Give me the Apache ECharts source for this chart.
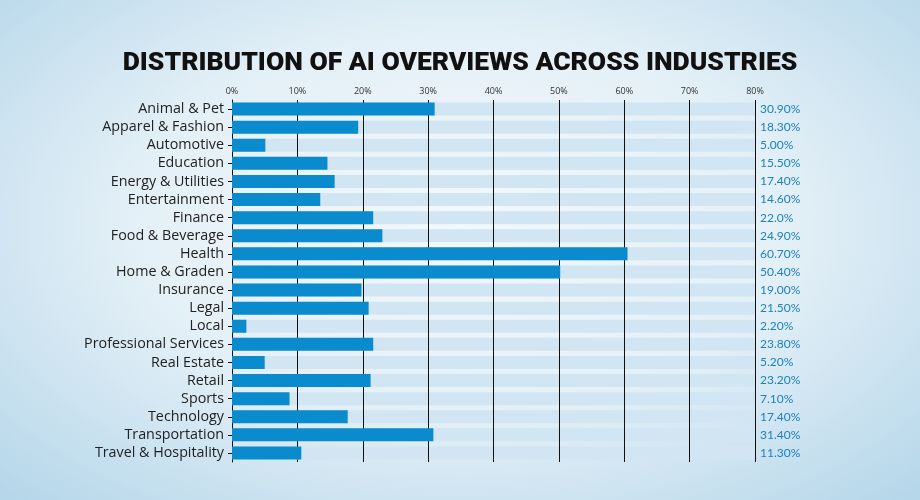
<!DOCTYPE html>
<html><head><meta charset="utf-8">
<script src="https://cdn.jsdelivr.net/npm/echarts@6/dist/echarts.min.js"></script>
<style>
html,body{margin:0;padding:0;}
body{width:920px;height:500px;background:radial-gradient(ellipse 70% 75% at 50% 45%, #f3f8fb 0%, #e4f0f7 50%, #b6d7ea 100%);}
#c{width:920px;height:500px;}
</style></head>
<body><div id="c"></div>
<script>
const categories = ["Animal & Pet","Apparel & Fashion","Automotive","Education","Energy & Utilities","Entertainment","Finance","Food & Beverage","Health","Home & Graden","Insurance","Legal","Local","Professional Services","Real Estate","Retail","Sports","Technology","Transportation","Travel & Hospitality"];
const barValues = [31.0,19.3,5.1,14.6,15.7,13.5,21.6,23.0,60.5,50.2,19.8,20.9,2.2,21.6,5.0,21.2,8.8,17.7,30.8,10.6];
const valueLabels = ["30.90%","18.30%","5.00%","15.50%","17.40%","14.60%","22.0%","24.90%","60.70%","50.40%","19.00%","21.50%","2.20%","23.80%","5.20%","23.20%","7.10%","17.40%","31.40%","11.30%"];
const xTicks = [0,10,20,30,40,50,60,70,80];
const title = "DISTRIBUTION OF AI OVERVIEWS ACROSS INDUSTRIES";

const xMax = xTicks[xTicks.length-1];
const trackValues = categories.map(() => xMax);

const chart = echarts.init(document.getElementById('c'), null, {renderer:'canvas'});
chart.setOption({
  backgroundColor: 'transparent',
  animation: false,
  title: {
    text: title, left: 'center', top: 45,
    textStyle: {fontFamily: 'Roboto', fontWeight: 900, fontSize: 26.5, color: '#111'}
  },
  grid: {left: 232, right: 165, top: 100, bottom: 38},
  xAxis: {
    type: 'value', position: 'top', min: xTicks[0], max: xMax, interval: 10,
    axisLine: {show: false}, axisTick: {show: false},
    axisLabel: {formatter: v => v + '%', fontFamily: 'Open Sans', fontSize: 9, color: '#333', margin: 4},
    splitLine: {show: true, lineStyle: {color: '#111', width: 1, type: 'solid'}}
  },
  yAxis: [{
    type: 'category', data: categories, inverse: true,
    axisLine: {show: true, lineStyle: {color: '#111', width: 1}},
    axisTick: {show: true, interval: 0, alignWithLabel: true, length: 4, lineStyle: {color: '#111'}},
    axisLabel: {interval: 0, fontFamily: 'Open Sans', fontSize: 14.3, color: '#222', margin: 8}
  },{
    type: 'category', data: valueLabels, inverse: true, position: 'right',
    axisLine: {show: false}, axisTick: {show: false},
    axisLabel: {interval: 0, fontFamily: 'Lato', fontSize: 12, color: '#1b80c4', margin: 5}
  }],
  series: [{
    type: 'bar', data: trackValues, barWidth: 13, z: -1, silent: true,
    itemStyle: {color: '#d1e6f2'}
  },{
    type: 'bar', data: barValues, barWidth: 13, barGap: '-100%', z: 3,
    itemStyle: {color: '#0a8bcd'}
  }]
});
</script></body></html>
